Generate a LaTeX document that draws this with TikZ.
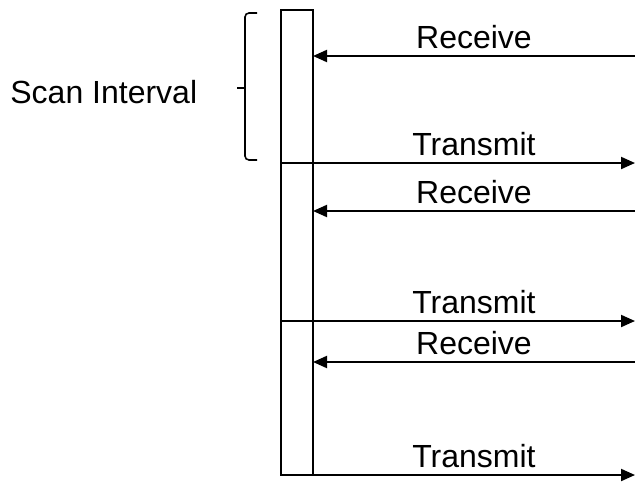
\documentclass[tikz,border=0pt]{standalone}
\usepackage{fontspec}
\setmainfont{Liberation Sans}
\usetikzlibrary{arrows.meta,positioning,calc}

\tikzset{
  slot/.style={draw, line width=1.25pt, minimum width=16pt, inner sep=0pt, outer sep=0pt},
  msg/.style={line width=1pt, -{Triangle[length=7pt,width=6pt]}},
  lbl/.style={font=\fontsize{16}{19}\selectfont, inner sep=1pt}
}

\begin{document}
\begin{tikzpicture}[x=0.5pt,y=-0.5pt]
    \useasboundingbox (0,0) rectangle (635,481);

    % Slots of the bar
    \node[slot, minimum height=76.5pt] (s1) at (297,86.5) {};
    \node[slot, minimum height=79pt] (s2) at (297,242) {};
    \node[slot, minimum height=77pt] (s3) at (297,398) {};

    % Far ends of the messages
    \coordinate (r1) at (635,56);
    \coordinate (r2) at (635,211);
    \coordinate (r3) at (635,362);
    \coordinate (t1) at (635,163);
    \coordinate (t2) at (635,321);
    \coordinate (t3) at (635,475);

    % Receive
    \draw[msg] (r1) -- node[lbl, above=2pt] {Receive} (s1.east |- r1);
    \draw[msg] (r2) -- node[lbl, above=2pt] {Receive} (s2.east |- r2);
    \draw[msg] (r3) -- node[lbl, above=2pt] {Receive} (s3.east |- r3);

    % Transmit
    \draw[msg] (s1.south east) -- node[lbl, above=2pt] {Transmit} (t1);
    \draw[msg] (s2.south east) -- node[lbl, above=2pt] {Transmit} (t2);
    \draw[msg] (s3.south east) -- node[lbl, above=2pt] {Transmit} (t3);

    % Scan interval bracket
    \draw[line width=0.8pt, rounded corners=2pt] (257,13) -- (245,13) -- (245,160) -- (257,160);
    \draw[line width=0.9pt] (245,88) -- (237,88);
    \node[lbl, anchor=base west] (scan) at (8,103) {Scan Interval};
\end{tikzpicture}
\end{document}
